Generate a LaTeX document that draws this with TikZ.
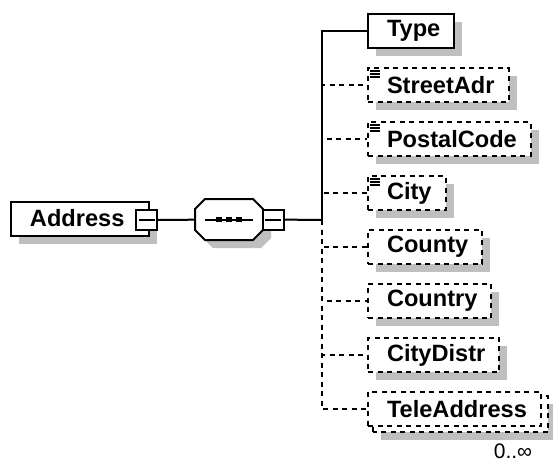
\documentclass[tikz,border=0pt]{standalone}
\usepackage{fontspec}
\setmainfont{Liberation Sans}
\usetikzlibrary{shadows,backgrounds}

\tikzset{
  box/.style={draw, fill=white, line width=1pt, minimum height=17pt, inner ysep=0pt,
    inner xsep=7pt, anchor=west, font=\bfseries\fontsize{11.8}{14}\selectfont,
    execute at begin node=\hspace{2.5pt}},
  shad/.style={drop shadow={shadow xshift=4pt, shadow yshift=-4pt, fill=black!25, opacity=1}},
  opt/.style={dash pattern=on 2.5pt off 2.25pt},
  minus/.style={draw, fill=white, line width=1pt, minimum width=10.5pt, minimum height=10pt, inner sep=0pt},
  conn/.style={line width=1pt},
  branch/.style={line width=1pt, to path={|- (\tikztotarget)}}
}

\begin{document}
\begin{tikzpicture}[x=0.5pt, y=-0.5pt]
    \useasboundingbox (0,0) rectangle (553,461);
    \node[box, shad, execute at end node=\hspace{5.5pt}] (adr) at (10,218.5) {Address};
    \node[minimum width=34pt, minimum height=20.5pt, inner sep=0pt] (seq) at (229,219.5) {};
    \draw[fill=white, line width=1pt, shad] (seq.center) ++(-34,-10.5) -- ++(10,-10) -- ++(48,0)
      -- ++(10,10) -- ++(0,21) -- ++(-10,10) -- ++(-48,0) -- ++(-10,-10) -- cycle;
    \node[minus] (am) at (146.5,220) {};
    \node[minus] (sm) at (273,219.5) {};
    \coordinate (jn) at (322,220);

    \node[box, shad] (type) at (367,31) {Type};
    \node[box, shad, opt] (sadr) at (367,85) {StreetAdr};
    \node[box, shad, opt] (pcode) at (367,139) {PostalCode};
    \node[box, shad, opt] (city) at (367,193) {City};
    \node[box, shad, opt] (cnty) at (367,247) {County};
    \node[box, shad, opt] (ctry) at (367,301) {Country};
    \node[box, shad, opt] (cdis) at (367,355) {CityDistr};
    \node[box, opt] (tele) at (367,409) {TeleAddress};
    \node[font=\fontsize{10.5}{12}\selectfont, inner sep=0pt] (occ) at (513,451) {0..∞};

    \begin{scope}[on background layer]
      \fill[black!25] ([shift={(7pt,-6.5pt)}]tele.south west) rectangle ([shift={(7pt,-6.5pt)}]tele.north east);
      \draw[fill=white, line width=1pt, opt] ([shift={(3pt,-2.5pt)}]tele.south west) rectangle ([shift={(3pt,-2.5pt)}]tele.north east);
    \end{scope}

    \draw[conn] ([xshift=1.75pt]am.west) -- ([xshift=-1.75pt]am.east);
    \draw[conn] ([xshift=1.75pt]sm.west) -- ([xshift=-1.75pt]sm.east);
    \draw[conn] ([xshift=-12pt]seq.center) -- ([xshift=12pt]seq.center);
    \foreach \i in {-1,0,1}
      \fill ([xshift=\i*5pt]seq.center) +(-2.75,-2.75) rectangle +(2.75,2.75);
    \foreach \n in {sadr,pcode,city}
      \foreach \k in {0,1,2}
        \draw[line width=0.9pt] ([shift={(3,4+3*\k)}]\n.north west) -- ++(10,0);

    \path[conn]
      (am) edge (seq)
      (sm) edge (jn);
    \path
      (jn) edge[branch] (type)
      (jn) edge[branch, opt] (sadr)
      (jn) edge[branch, opt] (pcode)
      (jn) edge[branch, opt] (city)
      (jn) edge[branch, opt] (cnty)
      (jn) edge[branch, opt] (ctry)
      (jn) edge[branch, opt] (cdis)
      (jn) edge[branch, opt] (tele);
  \end{tikzpicture}
\end{document}
